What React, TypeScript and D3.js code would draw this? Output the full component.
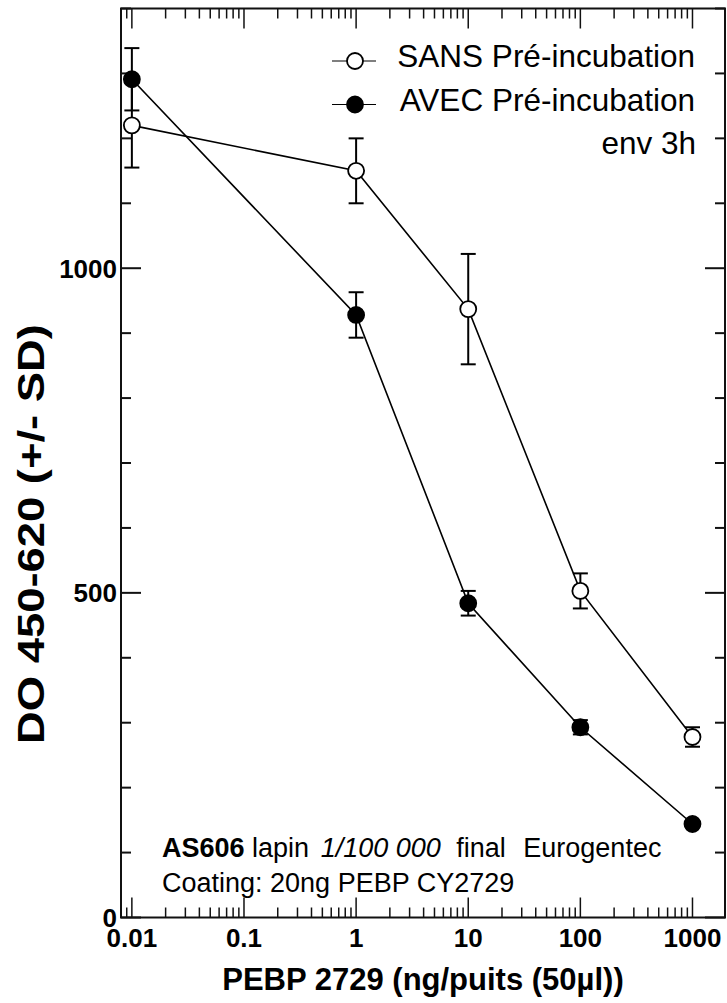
import React from "react";
import * as d3 from "d3";

const concentrations = [0.01, 1, 10, 100, 1000];
const sansValues = [1220, 1150, 937, 503, 278];
const sansSD = [65, 50, 85, 27, 15];
const avecValues = [1291, 928, 484, 293, 144];
const avecSD = [48, 35, 19, 11, 5];
const xTickLabels = ["0.01", "0.1", "1", "10", "100", "1000"];
const xTickValues = [0.01, 0.1, 1, 10, 100, 1000];
const yTickLabels = ["0", "500", "1000"];
const yTickValues = [0, 500, 1000];
const legendLabels = ["SANS Pré-incubation", "AVEC Pré-incubation"];

const W = 727;
const H = 1003;
const L = 121, R = 725, T = 8.5, B = 917.5;
const FONT = "'Liberation Sans', Arial, Helvetica, sans-serif";

export default function App() {
  const x = d3.scaleLog().domain([0.008, 1950]).range([L, R]);
  const y = d3.scaleLinear().domain([0, 1400]).range([B, T]);

  const xMinor = x.ticks().filter((t) => t >= 0.008 && t <= 1950);
  const isMajorX = (t: number) => Math.abs(Math.log10(t) - Math.round(Math.log10(t))) < 1e-9;
  const yMinor = d3.range(0, 1401, 100);
  const isMajorY = (v: number) => v % 500 === 0;

  const line = d3
    .line<number>()
    .x((_, i) => x(concentrations[i]))
    .y((v) => y(v));

  const series = [
    { values: sansValues, sd: sansSD, fill: "#fff" },
    { values: avecValues, sd: avecSD, fill: "#000" },
  ];
  const cap = 7.5;
  const r = 8;

  return (
    <svg
      width={W}
      height={H}
      style={{ position: "absolute", left: 0, top: 0, background: "#fff" }}
      fontFamily={FONT}
    >
      <rect x={0} y={0} width={W} height={H} fill="#fff" />
      {/* frame */}
      <rect x={L} y={T} width={R - L} height={B - T} fill="none" stroke="#111" strokeWidth={2} />

      {/* x ticks bottom & top */}
      {xMinor.map((t, i) => {
        const len = isMajorX(t) ? 20 : 10;
        const xx = x(t);
        return (
          <g key={"xt" + i} stroke="#111" strokeWidth={1.5}>
            <line x1={xx} x2={xx} y1={B} y2={B - len} />
            <line x1={xx} x2={xx} y1={T} y2={T + len} />
          </g>
        );
      })}
      {/* y ticks left & right */}
      {yMinor.map((v, i) => {
        const len = isMajorY(v) ? 20 : 10;
        const yy = y(v);
        return (
          <g key={"yt" + i} stroke="#111" strokeWidth={2}>
            <line x1={L} x2={L + len} y1={yy} y2={yy} />
            <line x1={R} x2={R - len} y1={yy} y2={yy} />
          </g>
        );
      })}

      {/* tick labels */}
      {xTickValues.map((t, i) => (
        <text
          key={"xl" + i}
          x={x(t)}
          y={946.5}
          textAnchor="middle"
          fontSize={26}
          fontWeight="bold"
          fill="#000"
        >
          {xTickLabels[i]}
        </text>
      ))}
      {yTickValues.map((v, i) => (
        <text
          key={"yl" + i}
          x={L - 4}
          y={y(v) + 9.3}
          textAnchor="end"
          fontSize={26}
          fontWeight="bold"
          fill="#000"
        >
          {yTickLabels[i]}
        </text>
      ))}

      {/* axis titles */}
      <text
        x={(L + R) / 2}
        y={990}
        textAnchor="middle"
        fontSize={31}
        fontWeight="bold"
        fill="#000"
      >
        PEBP 2729 (ng/puits (50µl))
      </text>
      <text
        transform={`translate(44, 534) rotate(-90)`}
        textAnchor="middle"
        fontSize={37}
        fontWeight="bold"
        fill="#000"
        textLength={420}
        lengthAdjust="spacingAndGlyphs"
      >
        DO 450-620 (+/- SD)
      </text>

      {/* lines */}
      {series.map((s, k) => (
        <path key={"ln" + k} d={line(s.values) || ""} fill="none" stroke="#000" strokeWidth={1.6} />
      ))}
      {/* error bars */}
      {series.map((s, k) =>
        s.values.map((v, i) => {
          const xx = x(concentrations[i]);
          const y1 = y(v + s.sd[i]);
          const y2 = y(v - s.sd[i]);
          return (
            <g key={"eb" + k + "-" + i} stroke="#000" strokeWidth={2}>
              <line x1={xx} x2={xx} y1={y1} y2={y2} />
              <line x1={xx - cap} x2={xx + cap} y1={y1} y2={y1} />
              <line x1={xx - cap} x2={xx + cap} y1={y2} y2={y2} />
            </g>
          );
        })
      )}
      {/* points */}
      {series.map((s, k) =>
        s.values.map((v, i) => (
          <circle
            key={"pt" + k + "-" + i}
            cx={x(concentrations[i])}
            cy={y(v)}
            r={r}
            fill={s.fill}
            stroke="#000"
            strokeWidth={1.8}
          />
        ))
      )}

      {/* legend */}
      {legendLabels.map((lab, i) => {
        const ly = 61 + i * 43.5;
        return (
          <g key={"lg" + i}>
            <line x1={332} x2={376} y1={ly} y2={ly} stroke="#000" strokeWidth={1.2} />
            <circle cx={355} cy={ly} r={r} fill={series[i].fill} stroke="#000" strokeWidth={1.8} />
            <text x={695} y={ly + 6} textAnchor="end" fontSize={31.5} fill="#000">
              {lab}
            </text>
          </g>
        );
      })}
      <text x={696} y={154} textAnchor="end" fontSize={31.5} fill="#000">
        env 3h
      </text>

      {/* annotation */}
      <text x={162} y={856.5} fontSize={27} fill="#000" xmlSpace="preserve">
        <tspan fontWeight="bold">AS606</tspan>
        <tspan> lapin </tspan>
        <tspan dx={4} fontStyle="italic">1/100 000</tspan>
        <tspan dx={8}> final </tspan>
        <tspan dx={10}>Eurogentec</tspan>
      </text>
      <text x={162} y={891.5} fontSize={27} fill="#000">
        Coating: 20ng PEBP CY2729
      </text>
    </svg>
  );
}
